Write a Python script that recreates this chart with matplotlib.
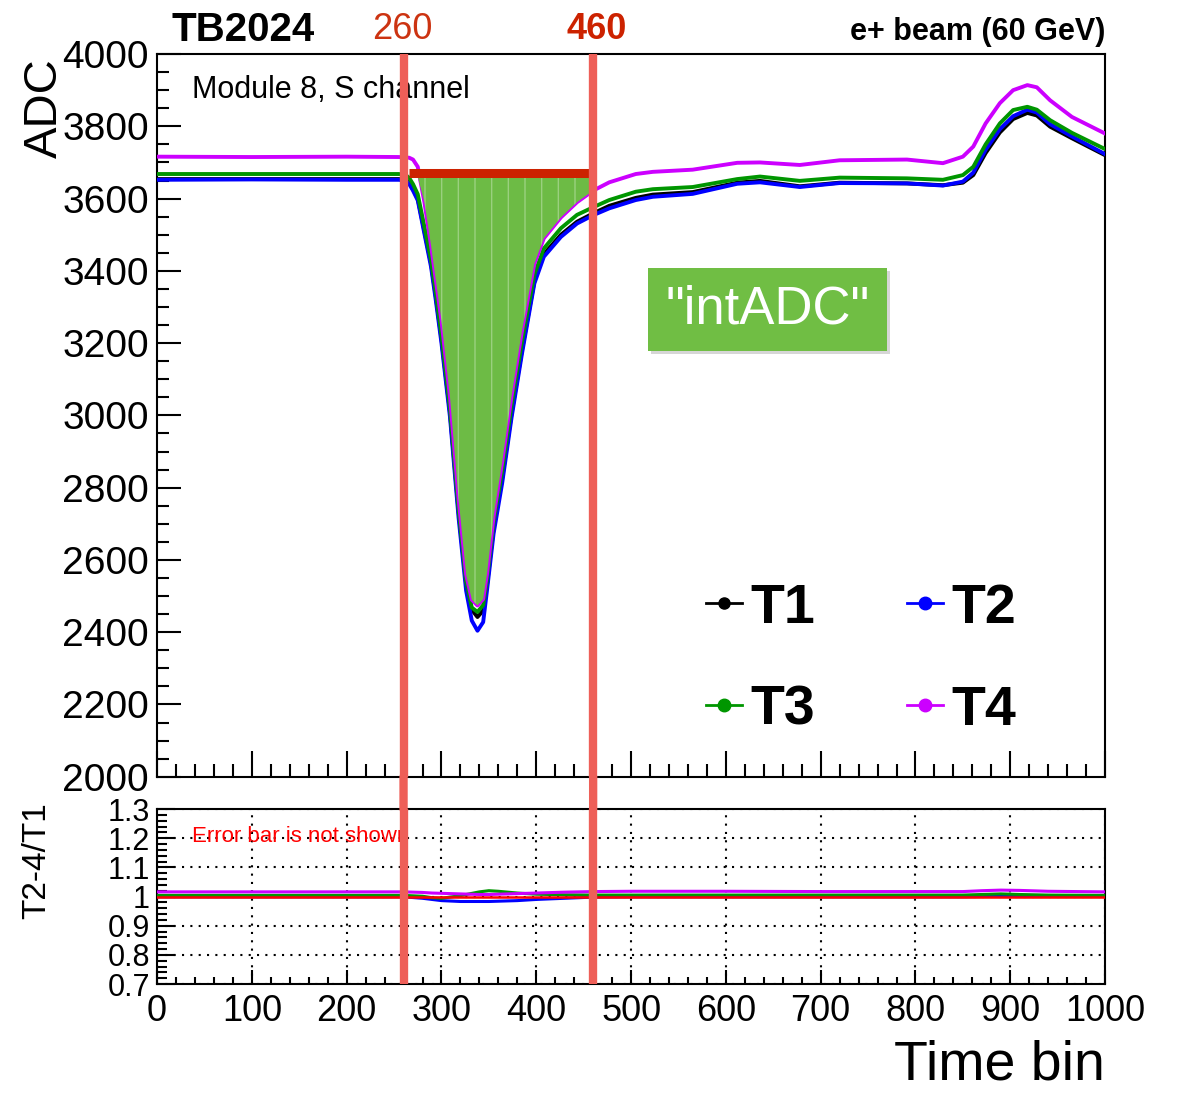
"""
Pulse shape of module 8 (S channel) for four run periods, with the
integration window 260-460 marked, plus the T2-4/T1 ratio panel.
"""

import numpy as np
import matplotlib
matplotlib.use("Agg")
import matplotlib.pyplot as plt
from matplotlib.patches import Rectangle, ConnectionPatch
from matplotlib.lines import Line2D
from matplotlib.ticker import MultipleLocator, FixedLocator, FixedFormatter
import matplotlib.patheffects as pe

plt.rcParams["font.family"] = ["Liberation Sans", "DejaVu Sans"]

# ----------------------------------------------------------------------
# Data
# ----------------------------------------------------------------------

time_bins = [0, 100, 200, 255, 262, 266, 270, 275, 282, 289, 294, 300,
             309, 318, 326, 332, 338, 344, 348, 355, 364, 374, 385, 398,
             408, 426, 443, 460, 477, 505, 523, 565, 612, 636, 678, 720,
             791, 829, 850, 861, 874, 889, 903, 918, 928, 942, 965, 1000]

adc_t1 = [3654, 3654, 3654, 3654, 3652, 3643, 3626, 3600, 3510, 3420, 3330, 3212,
          3008, 2735, 2535, 2462, 2442, 2460, 2530, 2688, 2826, 3006, 3182, 3372,
          3446, 3500, 3536, 3559, 3580, 3602, 3611, 3618, 3644, 3649, 3634, 3644,
          3642, 3637, 3644, 3665, 3726, 3783, 3820, 3837, 3830, 3799, 3767, 3720]

adc_t2 = [3652, 3653, 3652, 3652, 3650, 3640, 3622, 3595, 3503, 3411, 3319, 3200,
          2995, 2718, 2515, 2432, 2404, 2428, 2515, 2673, 2812, 2995, 3172, 3365,
          3439, 3494, 3531, 3554, 3573, 3596, 3605, 3613, 3641, 3645, 3632, 3643,
          3642, 3636, 3647, 3672, 3735, 3792, 3828, 3846, 3838, 3806, 3772, 3723]

adc_t3 = [3668, 3668, 3668, 3668, 3666, 3657, 3640, 3612, 3522, 3430, 3340, 3222,
          3018, 2742, 2540, 2468, 2456, 2475, 2545, 2705, 2845, 3028, 3205, 3390,
          3462, 3518, 3555, 3576, 3596, 3619, 3626, 3632, 3654, 3661, 3649, 3658,
          3656, 3652, 3665, 3688, 3750, 3808, 3845, 3854, 3846, 3817, 3782, 3737]

adc_t4 = [3716, 3715, 3716, 3715, 3714, 3713, 3708, 3688, 3590, 3470, 3375, 3262,
          3050, 2770, 2560, 2490, 2474, 2492, 2560, 2720, 2870, 3055, 3235, 3420,
          3490, 3548, 3590, 3622, 3645, 3668, 3674, 3680, 3699, 3700, 3693, 3706,
          3708, 3698, 3716, 3744, 3808, 3864, 3900, 3914, 3908, 3872, 3826, 3780]

# integration window and the "intADC" fill
window = [260, 460]
fill_range = [266, 460]
fill_top = 3660
band_range = [266, 462]
band_level = 3672

# ratio panel
ratio_bins = [0, 100, 200, 260, 280, 290, 300, 320, 340, 350, 360, 380, 400,
              430, 460, 500, 600, 700, 800, 850, 870, 890, 910, 940, 1000]
ratio_t2 = [0.999, 0.999, 0.999, 0.999, 0.994, 0.990, 0.986, 0.983, 0.983,
            0.983, 0.984, 0.986, 0.990, 0.994, 0.998, 0.999, 0.999, 0.999,
            0.999, 0.999, 1.000, 1.001, 1.000, 1.000, 1.000]
ratio_t3 = [1.004, 1.004, 1.004, 1.004, 1.001, 0.996, 0.994, 1.003, 1.016,
            1.020, 1.018, 1.012, 1.008, 1.006, 1.005, 1.005, 1.005, 1.005,
            1.005, 1.005, 1.007, 1.009, 1.007, 1.005, 1.004]
ratio_t4 = [1.016, 1.016, 1.016, 1.016, 1.014, 1.012, 1.011, 1.009, 1.007,
            1.007, 1.008, 1.010, 1.012, 1.015, 1.017, 1.018, 1.018, 1.017,
            1.017, 1.017, 1.020, 1.022, 1.021, 1.018, 1.016]
ratio_ref_bins = [0, 1000]
ratio_ref = [1.0, 1.0]

ratio_ticks = [0.7, 0.8, 0.9, 1.0, 1.1, 1.2, 1.3]
ratio_labels = ["0.7", "0.8", "0.9", "1", "1.1", "1.2", "1.3"]

series = ["T1", "T2", "T3", "T4"]
colors = {"T1": "#000000", "T2": "#0000FF", "T3": "#009600", "T4": "#CC00FF"}

# ----------------------------------------------------------------------
# Figure
# ----------------------------------------------------------------------

fig = plt.figure(figsize=(11.8, 10.94), dpi=100)
ax = fig.add_axes([0.1331, 0.2900, 0.8034, 0.6606])
axr = fig.add_axes([0.1331, 0.1005, 0.8034, 0.1600])

for a in (ax, axr):
    for s in a.spines.values():
        s.set_linewidth(1.5)

t = np.array(time_bins)
adc = {"T1": np.array(adc_t1), "T2": np.array(adc_t2),
       "T3": np.array(adc_t3), "T4": np.array(adc_t4)}

for name in series:
    ax.plot(t, adc[name], color=colors[name], lw=2.8, zorder=3)

# intADC fill between the pulse and the top of the window
sel = (t >= fill_range[0]) & (t <= fill_range[1])
low = np.minimum(adc["T4"][sel], fill_top)
ax.fill_between(t[sel], low, fill_top, facecolor="#6DBB45", edgecolor="none",
                zorder=4)
ax.fill_between(t[sel], low, fill_top, facecolor="none", edgecolor="#B9DFA6",
                hatch="|", linewidth=0, alpha=0.6, zorder=4)
ax.plot(band_range, [band_level, band_level], color="#CC2200", lw=6.5,
        solid_capstyle="butt", zorder=5)

ax.set_xlim(0, 1000)
ax.set_ylim(2000, 4000)
ax.xaxis.set_major_locator(MultipleLocator(100))
ax.xaxis.set_minor_locator(MultipleLocator(20))
ax.yaxis.set_major_locator(MultipleLocator(200))
ax.yaxis.set_minor_locator(MultipleLocator(50))
ax.tick_params(which="both", direction="in", top=False, right=False, width=1.5)
ax.tick_params(axis="y", which="major", length=17, labelsize=28, pad=6)
ax.tick_params(axis="y", which="minor", length=8.5)
ax.tick_params(axis="x", which="major", length=19, labelbottom=False)
ax.tick_params(axis="x", which="minor", length=9.5)

ax.text(37, 3878, "Module 8, S channel", fontsize=22, va="baseline", zorder=2)

# legend: rows T1 T2 / T3 T4 (matplotlib fills columns first)
order = ["T1", "T3", "T2", "T4"]
handles = [Line2D([], [], color=colors[n], lw=2, marker="o",
                  markersize=8 if n == "T1" else 9) for n in order]
ax.legend(handles, order, ncol=2, frameon=False, loc="upper left",
          bbox_to_anchor=(0.579, 0.2685), borderpad=0, borderaxespad=0,
          handlelength=0.65, handletextpad=0.15, columnspacing=1.66,
          labelspacing=0.9, prop={"weight": "bold", "size": 40})

# "intADC" label box
box = Rectangle((0.518, 0.589), 0.252, 0.115, transform=ax.transAxes,
                facecolor="#70BE44", edgecolor="none", zorder=6,
                path_effects=[pe.withSimplePatchShadow(offset=(2, -2),
                                                       shadow_rgbFace="#999999",
                                                       alpha=0.4)])
ax.add_patch(box)
ax.text(0.644, 0.646, '"intADC"', transform=ax.transAxes, color="white",
        fontsize=38, ha="center", va="center", zorder=7)

# ratio panel
axr.plot(ratio_bins, ratio_t2, color=colors["T2"], lw=2.2, zorder=3)
axr.plot(ratio_bins, ratio_t3, color=colors["T3"], lw=2.2, zorder=3)
axr.plot(ratio_bins, ratio_t4, color=colors["T4"], lw=2.2, zorder=3)
axr.plot(ratio_ref_bins, ratio_ref, color="#FF0000", lw=1.8, zorder=3)

axr.set_xlim(0, 1000)
axr.set_ylim(0.7, 1.3)
axr.xaxis.set_major_locator(MultipleLocator(100))
axr.xaxis.set_minor_locator(MultipleLocator(20))
axr.yaxis.set_major_locator(FixedLocator(ratio_ticks))
axr.yaxis.set_major_formatter(FixedFormatter(ratio_labels))
axr.yaxis.set_minor_locator(MultipleLocator(0.02))
axr.tick_params(which="both", direction="in", top=False, right=False, width=1.5)
axr.tick_params(axis="y", which="major", length=13, labelsize=22, pad=5)
axr.tick_params(axis="y", which="minor", length=7)
axr.tick_params(axis="x", which="major", length=10, labelsize=26, pad=7)
axr.tick_params(axis="x", which="minor", length=5)
axr.grid(True, which="major", color="black", linestyle=(0, (1, 3)), lw=1.5)
axr.set_axisbelow(True)

axr.text(37, 1.187, "Error bar is not shown", color="#FF0000", fontsize=16,
         va="baseline", zorder=2)

# integration window lines, running through both panels
for x0 in window:
    ax.axvline(x0, color="#EE5F58", lw=6, zorder=8)
    axr.axvline(x0, color="#EE5F58", lw=6, zorder=8)
    con = ConnectionPatch(xyA=(x0, 2000), coordsA=ax.transData,
                          xyB=(x0, 1.3), coordsB=axr.transData,
                          color="#EE5F58", lw=6, zorder=8)
    fig.add_artist(con)

# header and axis titles
fig.text(172 / 1180, 1 - 41 / 1094, "TB2024", fontsize=29, weight="bold",
         va="baseline")
fig.text(402 / 1180, 1 - 39 / 1094, str(window[0]), fontsize=26, color="#CC3311",
         ha="center", va="baseline")
fig.text(597 / 1180, 1 - 39 / 1094, str(window[1]), fontsize=26, color="#CC2200",
         weight="bold", ha="center", va="baseline")
fig.text(0.9364, 1 - 40 / 1094, "e+ beam (60 GeV)", fontsize=22, weight="bold",
         ha="right", va="baseline")
fig.text(0.038, 0.947, "ADC", fontsize=34, rotation=90, ha="center", va="top")
fig.text(0.031, 0.213, "T2-4/T1", fontsize=24, rotation=90, ha="center",
         va="center")
fig.text(0.9364, 14 / 1094, "Time bin", fontsize=40, ha="right", va="baseline")

fig.savefig("out.png", dpi=100)
plt.close(fig)
